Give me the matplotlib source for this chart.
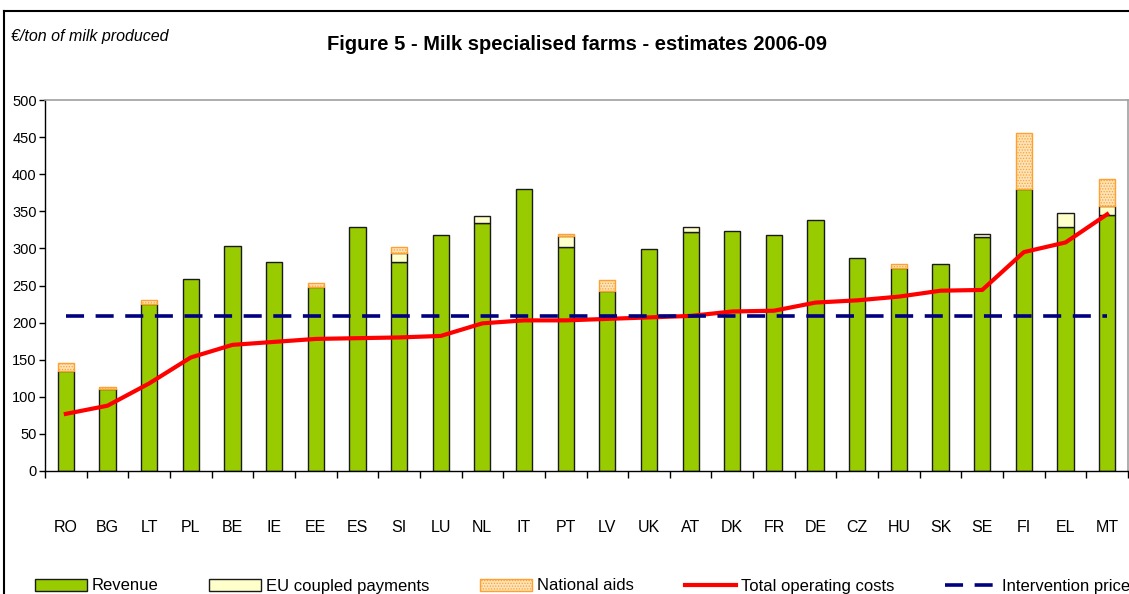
import numpy as np
import matplotlib
matplotlib.use("Agg")
import matplotlib.pyplot as plt
from matplotlib.lines import Line2D

plt.rcParams['font.family'] = ['Liberation Sans', 'DejaVu Sans']
plt.rcParams['hatch.linewidth'] = 0.6

# Data (EUR / ton of milk produced)
countries = ["RO", "BG", "LT", "PL", "BE", "IE", "EE", "ES", "SI", "LU", "NL", "IT", "PT",
             "LV", "UK", "AT", "DK", "FR", "DE", "CZ", "HU", "SK", "SE", "FI", "EL", "MT"]
revenue = [135, 110, 225, 259, 303, 282, 248, 329, 282, 318, 334, 380, 302,
           243, 299, 322, 323, 318, 338, 287, 273, 279, 315, 380, 329, 345]
eu_coupled = [0, 0, 0, 0, 0, 0, 0, 0, 12, 0, 9, 0, 15,
              0, 0, 7, 0, 0, 0, 0, 0, 0, 5, 0, 19, 12]
national_aids = [10, 3, 5, 0, 0, 0, 5, 0, 8, 0, 0, 0, 3,
                 15, 0, 0, 0, 0, 0, 0, 6, 0, 0, 76, 0, 36]
operating_costs = [77, 88, 118, 153, 170, 174, 178, 179, 180, 182, 199, 203, 203,
                   205, 207, 209, 215, 216, 227, 230, 235, 243, 244, 295, 308, 346]
intervention_price = 209

x = np.arange(len(countries))
revenue = np.array(revenue)
eu_coupled = np.array(eu_coupled)
national_aids = np.array(national_aids)

fig = plt.figure(figsize=(11.29, 5.94), dpi=100)
ax = fig.add_axes([45 / 1129, 1 - 471 / 594, 1083 / 1129, 371 / 594])

# stacked bars: revenue + EU coupled payments + national aids (zero parts skipped)
w = 0.39
b_rev = ax.bar(x, revenue, width=w, color="#99cc00", edgecolor="#1a1a1a", linewidth=1.0,
               label="Revenue", zorder=2)
m = eu_coupled > 0
b_eu = ax.bar(x[m], eu_coupled[m], width=w, bottom=revenue[m], color="#ffffcc",
              edgecolor="#1a1a1a", linewidth=1.0, label="EU coupled payments", zorder=2)
m2 = national_aids > 0
b_nat = ax.bar(x[m2], national_aids[m2], width=w, bottom=(revenue + eu_coupled)[m2],
               color="#fde3b8", edgecolor="#ffa030", hatch="......", linewidth=1.0,
               label="National aids", zorder=2)

l_cost, = ax.plot(x, operating_costs, color="#ff0000", linewidth=3.0,
                  label="Total operating costs", zorder=3)
l_int, = ax.plot(x, [intervention_price] * len(x), color="#000080", linewidth=2.6,
                 dashes=(5, 3.2), label="Intervention price", zorder=3)

ax.set_xlim(-0.5, len(x) - 0.5)
ax.set_ylim(0, 500)
ax.set_yticks(range(0, 501, 50))
ax.tick_params(axis="y", labelsize=10.5, length=4, width=1, pad=2)
ax.set_xticks(x)
ax.set_xticklabels(countries, fontsize=11.5)
ax.tick_params(axis="x", which="major", length=0, pad=35)
ax.set_xticks(np.arange(-0.5, len(x), 1), minor=True)
ax.tick_params(axis="x", which="minor", length=5, width=1)

for s in ["top", "right"]:
    ax.spines[s].set_color("#a0a0a0")
    ax.spines[s].set_linewidth(1.2)
for s in ["left", "bottom"]:
    ax.spines[s].set_color("black")
    ax.spines[s].set_linewidth(1.0)

fig.text(11 / 1129, 1 - 36 / 594, "€/ton of milk produced", fontsize=11.5,
         fontstyle="italic", ha="left", va="center")
fig.text(577 / 1129, 1 - 44 / 594, "Figure 5 - Milk specialised farms - estimates 2006-09",
         fontsize=14.5, fontweight="bold", ha="center", va="center")

# outer chart frame (top and left edges visible)
fig.add_artist(Line2D([4 / 1129, 1], [1 - 11 / 594, 1 - 11 / 594], color="black",
                      linewidth=1.5, transform=fig.transFigure))
fig.add_artist(Line2D([4 / 1129, 4 / 1129], [0, 1 - 11 / 594], color="black",
                      linewidth=1.5, transform=fig.transFigure))

fig.legend(handles=[b_rev, b_eu, b_nat, l_cost, l_int],
           labels=["Revenue", "EU coupled payments", "National aids",
                   "Total operating costs", "Intervention price"],
           ncol=5, loc="center left", bbox_to_anchor=(20 / 1129, 1 - 586 / 594),
           frameon=False, fontsize=12, handlelength=3.1, handleheight=0.7,
           handletextpad=0.3, columnspacing=3.05)

fig.savefig("out.png", dpi=100)
